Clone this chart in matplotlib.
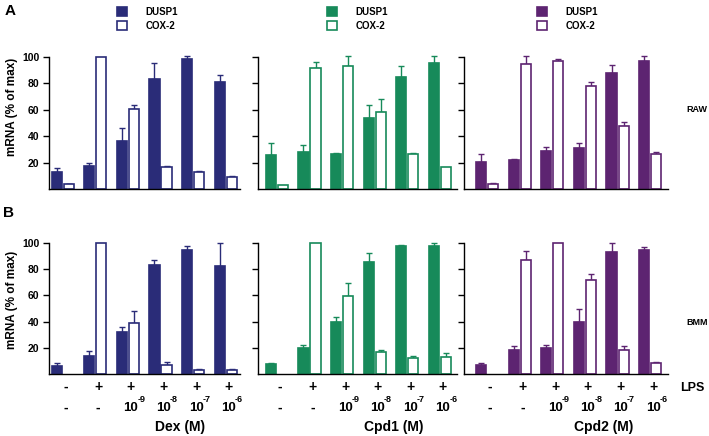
import matplotlib
matplotlib.use("Agg")
import matplotlib.pyplot as plt
import numpy as np
from matplotlib.patches import Patch

plt.rcParams["font.family"] = ["Liberation Sans", "DejaVu Sans"]
plt.rcParams["font.weight"] = "bold"

# ---- data (mRNA, % of max) ----
row_names = ["RAW", "BMM"]
compounds = ["Dex (M)", "Cpd1 (M)", "Cpd2 (M)"]
series_names = ["DUSP1", "COX-2"]
lps_labels = ["-", "+", "+", "+", "+", "+"]
dose_exponents = [None, None, "-9", "-8", "-7", "-6"]
colors = ["#2a2c78", "#178a5a", "#5d2471"]

raw_dex_dusp1 = [13, 17.5, 36.5, 83, 98.5, 81]
raw_dex_dusp1_err = [3, 2.5, 9.5, 12.5, 2, 5]
raw_dex_cox2 = [3.5, 100, 60.5, 17, 12.5, 9]
raw_dex_cox2_err = [0.5, 0, 3.5, 0.5, 1.5, 1]

raw_cpd1_dusp1 = [26, 28, 26.5, 54, 84.5, 95.5]
raw_cpd1_dusp1_err = [9, 5, 1, 9.5, 8.5, 5]
raw_cpd1_cox2 = [3, 91.5, 93.5, 58.5, 26.5, 17]
raw_cpd1_cox2_err = [0, 4.5, 7, 10, 0.8, 0]

raw_cpd2_dusp1 = [20.5, 22, 29, 31, 88, 97]
raw_cpd2_dusp1_err = [6, 0.8, 2.5, 3.5, 6, 3.5]
raw_cpd2_cox2 = [3.5, 95, 97.3, 78, 48, 26.5]
raw_cpd2_cox2_err = [0.8, 5.5, 1.2, 2.7, 3, 1.3]

bmm_dex_dusp1 = [6, 14, 32, 83, 94.5, 82.5]
bmm_dex_dusp1_err = [2.2, 3.8, 4.2, 4, 3.3, 17.5]
bmm_dex_cox2 = [0, 100, 39, 7, 3, 3]
bmm_dex_cox2_err = [0, 0, 9, 2.3, 1, 1]

bmm_cpd1_dusp1 = [7.5, 20, 40, 85.5, 98, 98]
bmm_cpd1_dusp1_err = [0.8, 2, 3.2, 6.5, 0.7, 2]
bmm_cpd1_cox2 = [0, 100, 59.5, 16.5, 12, 13.3]
bmm_cpd1_cox2_err = [0, 0, 10, 1.6, 1.5, 2.5]

bmm_cpd2_dusp1 = [7, 18.5, 20, 40, 93.5, 95]
bmm_cpd2_dusp1_err = [1.3, 2.5, 2.5, 9.7, 6.5, 2.3]
bmm_cpd2_cox2 = [0, 87, 100, 72, 18.5, 8.7]
bmm_cpd2_cox2_err = [0, 7, 0, 4, 3, 0.7]

panels = [
    [(raw_dex_dusp1, raw_dex_dusp1_err, raw_dex_cox2, raw_dex_cox2_err),
     (raw_cpd1_dusp1, raw_cpd1_dusp1_err, raw_cpd1_cox2, raw_cpd1_cox2_err),
     (raw_cpd2_dusp1, raw_cpd2_dusp1_err, raw_cpd2_cox2, raw_cpd2_cox2_err)],
    [(bmm_dex_dusp1, bmm_dex_dusp1_err, bmm_dex_cox2, bmm_dex_cox2_err),
     (bmm_cpd1_dusp1, bmm_cpd1_dusp1_err, bmm_cpd1_cox2, bmm_cpd1_cox2_err),
     (bmm_cpd2_dusp1, bmm_cpd2_dusp1_err, bmm_cpd2_cox2, bmm_cpd2_cox2_err)],
]

# ---- layout (pixels of a 709x436 canvas) ----
W, H = 709, 436
px_per_unit = 32.6
cols = [(49, 240, -0.42), (258, 457, -0.58), (464, 668, -0.71)]
legend_left = [117, 327, 537]
rows = [(57, 189), (243, 374)]
bw = 0.31
off = 0.185
lab_dx = 0.09

fig = plt.figure(figsize=(W / 100, H / 100), dpi=100)


def draw_bars(ax, x, vals, errs, color, filled):
    vals = np.asarray(vals, float)
    errs = np.asarray(errs, float)
    keep = vals > 0
    ax.bar(x[keep], vals[keep], bw, color=color if filled else "white",
           edgecolor=color, linewidth=1.2, clip_on=False, zorder=2)
    e = keep & (errs > 0)
    ax.errorbar(x[e], vals[e], yerr=[np.zeros(e.sum()), errs[e]], fmt="none",
                ecolor=color, elinewidth=1.0, capsize=2, capthick=1.0,
                clip_on=False, zorder=1)


for r, (top, bot) in enumerate(rows):
    for c, (left, right, x0) in enumerate(cols):
        ax = fig.add_axes([left / W, 1 - bot / H, (right - left) / W, (bot - top) / H])
        d1, d1e, c2, c2e = panels[r][c]
        x = np.arange(len(d1))
        draw_bars(ax, x - off, d1, d1e, colors[c], True)
        draw_bars(ax, x + off, c2, c2e, colors[c], False)
        ax.set_xlim(x0, x0 + (right - left) / px_per_unit)
        ax.set_ylim(0, 100)
        ax.set_yticks([20, 40, 60, 80, 100])
        ax.set_xticks([])
        for s in ["top", "right"]:
            ax.spines[s].set_visible(False)
        ax.spines["left"].set_linewidth(1.0)
        ax.spines["bottom"].set_linewidth(1.0)
        ax.tick_params(axis="y", length=4, width=1.0, direction="out",
                       labelsize=7.5, pad=3)
        if c == 0:
            ax.set_ylabel("mRNA (% of max)", fontsize=8.5, fontweight="bold")
            ax.yaxis.set_label_coords((18 - left) / (right - left), 0.62 if r == 0 else 0.565)
        else:
            ax.set_yticklabels([])
        if r == 0:
            handles = [Patch(facecolor=colors[c], edgecolor=colors[c], linewidth=1.2),
                       Patch(facecolor="white", edgecolor=colors[c], linewidth=1.2)]
            ax.legend(handles, series_names, loc="upper left",
                      bbox_to_anchor=((legend_left[c] - left) / (right - left),
                                      1 + (top - 7) / (bot - top)),
                      frameon=False, handlelength=1.0, handleheight=0.95,
                      handletextpad=1.9, labelspacing=0.4, borderpad=0, borderaxespad=0,
                      prop={"weight": "bold", "size": 7})
        else:
            tr = ax.get_xaxis_transform()
            h = bot - top
            for i in range(len(lps_labels)):
                xi = i + lab_dx
                ax.text(xi, -12.5 / h, lps_labels[i], transform=tr,
                        ha="center", va="center", fontsize=10, fontweight="bold")
                if dose_exponents[i] is None:
                    ax.text(xi, -33.5 / h, "-", transform=tr,
                            ha="center", va="center", fontsize=10, fontweight="bold")
                else:
                    ax.annotate("10", xy=(xi, -33.5 / h), xycoords=tr,
                                ha="center", va="center", fontsize=9.5, fontweight="bold")
                    ax.annotate(dose_exponents[i], xy=(xi, -33.5 / h), xycoords=tr,
                                xytext=(4.6, 2.8), textcoords="offset points",
                                ha="left", va="bottom", fontsize=6.5, fontweight="bold")
            ax.text(3.5 + lab_dx, -53 / h, compounds[c], transform=tr,
                    ha="center", va="center", fontsize=10, fontweight="bold")

fig.text(10 / W, 1 - 11 / H, "A", fontsize=11, fontweight="bold", ha="center", va="center")
fig.text(8 / W, 1 - 213 / H, "B", fontsize=11, fontweight="bold", ha="center", va="center")
fig.text(697 / W, 1 - 110 / H, row_names[0], fontsize=6.5, fontweight="bold", ha="center", va="center")
fig.text(697 / W, 1 - 322 / H, row_names[1], fontsize=6.5, fontweight="bold", ha="center", va="center")
fig.text(680 / W, 1 - 388 / H, "LPS", fontsize=9, fontweight="bold", ha="left", va="center")

fig.savefig("out.png", dpi=100)
